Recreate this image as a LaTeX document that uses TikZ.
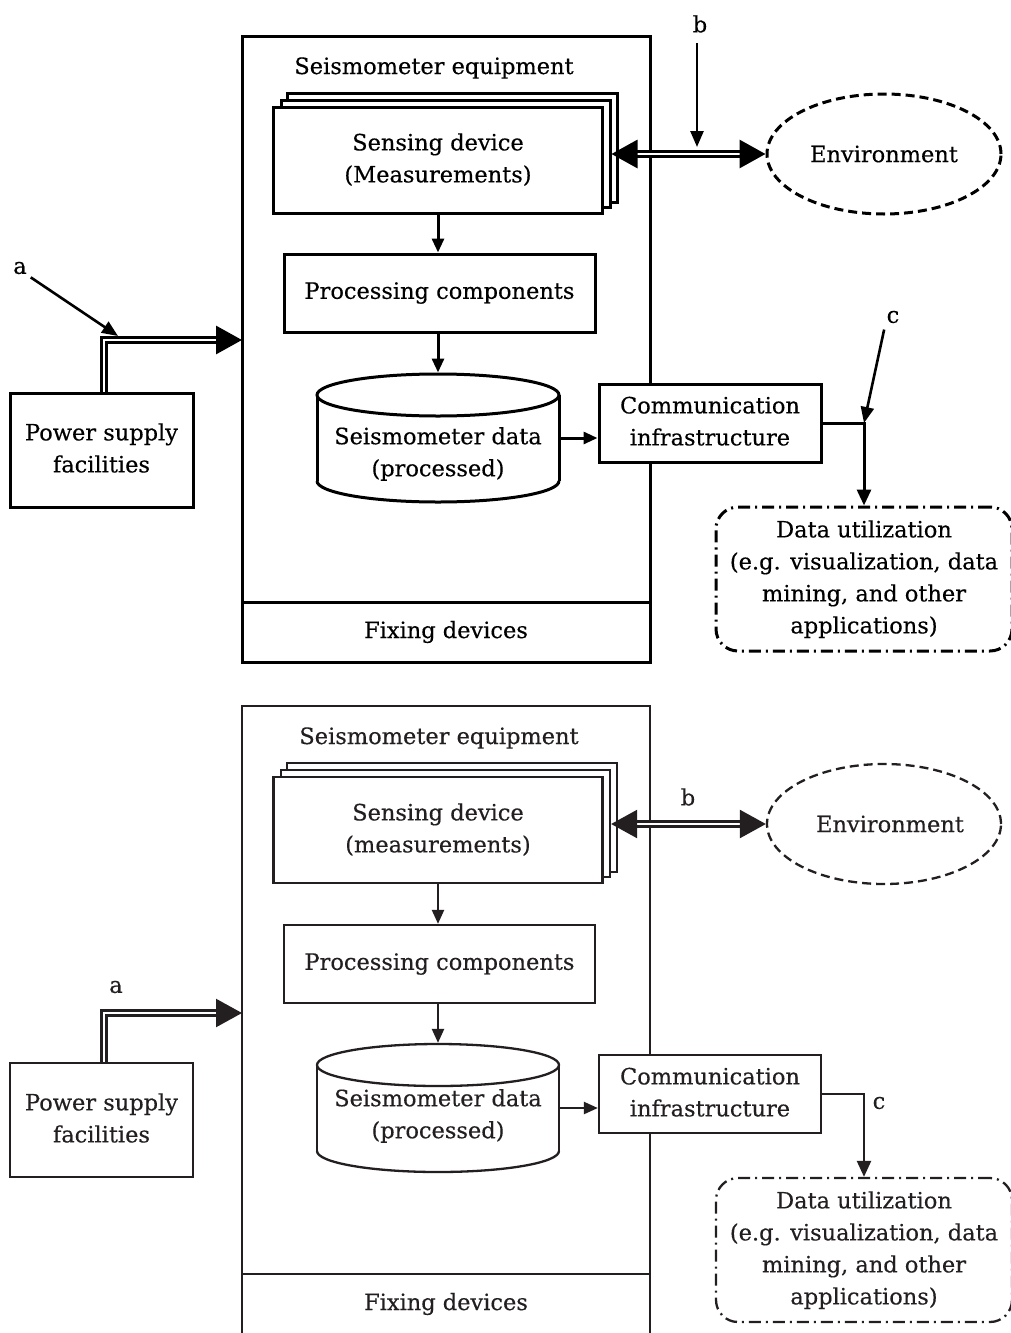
\documentclass[tikz,border=0pt]{standalone}
\usepackage{fontspec}
\setmainfont[FakeBold=0.35]{DejaVu Serif}
\usetikzlibrary{arrows.meta,shapes.geometric,calc}
\definecolor{ink}{HTML}{231F20}
\tikzset{bigtip/.tip={Triangle[length=26pt,width=28pt]},
  smalltip/.tip={Triangle[length=14pt,width=12pt]},
  midtip/.tip={Triangle[length=16pt,width=13pt]}}
\begin{document}
\begin{tikzpicture}[x=1pt,y=-1pt,
  every node/.style={font=\fontsize{22.5}{32}\selectfont, inner sep=0pt, align=center},
  box/.style 2 args={draw, rectangle, fill=white, minimum width=#1, minimum height=#2},
  sarrow/.style={-smalltip},
  dbl/.style={double=white, double distance=2.6pt, line width=3pt},
  dashdot/.style={dash pattern=on 12pt off 5pt on 2pt off 5pt},
  envdash/.style={dash pattern=on 9pt off 5pt},
  lbl/.style={font=\fontsize{22.5}{26}\selectfont}
]
\useasboundingbox (0,0) rectangle (1011,1333);
% ================= TOP DIAGRAM =================
\begin{scope}[line width=3pt, color=black]
  \node[box={408}{626}] (eq1) at (446,349) {};
  \node[box={408}{60}] (fix1) at (446,632) {\raisebox{-3pt}{Fixing devices}};
  \node (t1) at (434,68) {Seismometer equipment};
  \node[box={330}{109}] (sc1) at (452,147.5) {};
  \node[box={329}{107}] (sb1) at (445.5,153.5) {};
  \node[box={329}{106}] (sens1) at (438,160) {\raisebox{-2pt}{\begin{tabular}{@{}c@{}}Sensing device\\(Measurements)\end{tabular}}};
  \node[box={311}{78}] (proc1) at (439.5,293) {\raisebox{-3pt}{Processing components}};
  \node[minimum width=242, minimum height=128] (cyl1) at (438,438) {};
  \fill[white] (317,395) rectangle (559,481);
  \fill[white] (438,481) ellipse (121 and 21);
  \draw (317,395) -- (317,481) (559,395) -- (559,481);
  \draw (317,481) arc[start angle=180, end angle=0, x radius=121, y radius=21];
  \draw[fill=white] (438,395) ellipse (121 and 21);
  \node (cyl1t) at (438,454) {Seismometer data\\(processed)};
  \node[box={222}{78}] (comm1) at (710,423) {\raisebox{-2pt}{\begin{tabular}{@{}c@{}}Communication\\infrastructure\end{tabular}}};
  \node[draw, dashdot, rounded corners=22pt, minimum width=296, minimum height=144] (data1) at (864,579) {\raisebox{-2pt}{\begin{tabular}{@{}c@{}}Data utilization\\(e.g. visualization, data\\mining, and other\\applications)\end{tabular}}};
  \node[draw, envdash, ellipse, minimum width=234, minimum height=120] (env1) at (884,154) {\raisebox{-2pt}{Environment}};
  \node[box={183}{114}] (pow1) at (101.5,450) {\raisebox{-2pt}{\begin{tabular}{@{}c@{}}Power supply\\facilities\end{tabular}}};
  \node[lbl] (a1) at (20,268) {a};
  \node[lbl] (b1) at (700,24) {b};
  \node[lbl] (c1) at (893,317) {c};
  \coordinate (pin1) at (242,340);
  \coordinate (aj1) at (118,336);
  \coordinate (bj1) at (697,147);
  \coordinate (cj1) at (864,423);
  % connectors
  \draw[sarrow] (sens1.south) -- (sens1.south |- proc1.north);
  \draw[sarrow] (proc1.south -| cyl1.north) -- (cyl1.north);
  \draw[sarrow] (cyl1.east) -- (comm1.west |- cyl1.east);
  \draw[-{Triangle[length=16pt,width=14pt]}] (comm1.east) -| (data1.north);
  \draw[-midtip, line width=2.6pt, shorten <=5pt] (c1.south west) -- (cj1);
  \draw[dbl, bigtip-bigtip] (sb1.east |- env1.west) -- (env1.west);
  \draw[-midtip, line width=2.6pt, shorten <=9pt] (b1.south -| bj1) -- (bj1);
  \draw[dbl, -bigtip] ($(pow1.north)+(2.5,0)$) |- (pin1);
  \draw[-midtip, line width=2.6pt, shorten <=3pt] (a1.south east) -- (aj1);
\end{scope}
% ================= BOTTOM DIAGRAM =================
\begin{scope}[line width=2.3pt, color=ink]
  \node[box={408}{628}] (eq2) at (446,1020) {};
  \node[box={408}{60}] (fix2) at (446,1304) {\raisebox{-2pt}{Fixing devices}};
  \node (t2) at (439,738) {Seismometer equipment};
  \node[box={330}{109}] (sc2) at (452,817.5) {};
  \node[box={329}{107}] (sb2) at (445.5,823.5) {};
  \node[box={329}{106}] (sens2) at (438,830) {\raisebox{-2pt}{\begin{tabular}{@{}c@{}}Sensing device\\(measurements)\end{tabular}}};
  \node[box={311}{78}] (proc2) at (439.5,964) {Processing components};
  \node[minimum width=242, minimum height=128] (cyl2) at (438,1108) {};
  \fill[white] (317,1065) rectangle (559,1151);
  \fill[white] (438,1151) ellipse (121 and 21);
  \draw (317,1065) -- (317,1151) (559,1065) -- (559,1151);
  \draw (317,1151) arc[start angle=180, end angle=0, x radius=121, y radius=21];
  \draw[fill=white] (438,1065) ellipse (121 and 21);
  \node (cyl2t) at (438,1116) {Seismometer data\\(processed)};
  \node[box={222}{78}] (comm2) at (710,1094) {\raisebox{-2pt}{\begin{tabular}{@{}c@{}}Communication\\infrastructure\end{tabular}}};
  \node[draw, dashdot, rounded corners=22pt, minimum width=296, minimum height=144] (data2) at (864,1250) {\raisebox{-2pt}{\begin{tabular}{@{}c@{}}Data utilization\\(e.g. visualization, data\\mining, and other\\applications)\end{tabular}}};
  \node[draw, envdash, ellipse, minimum width=234, minimum height=120] (env2) at (884,824) {\hspace*{12pt}Environment};
  \node[box={183}{114}] (pow2) at (101.5,1120) {\raisebox{-2pt}{\begin{tabular}{@{}c@{}}Power supply\\facilities\end{tabular}}};
  \node[lbl] (a2) at (116,987) {a};
  \node[lbl] (b2) at (688,797) {b};
  \node[lbl] (c2) at (879,1103) {c};
  \coordinate (pin2) at (242,1013);
  % connectors
  \draw[sarrow] (sens2.south) -- (sens2.south |- proc2.north);
  \draw[sarrow] (proc2.south -| cyl2.north) -- (cyl2.north);
  \draw[sarrow] (cyl2.east) -- (comm2.west |- cyl2.east);
  \draw[-{Triangle[length=16pt,width=14pt]}] (comm2.east) -| (data2.north);
  \draw[dbl, line width=2.4pt, bigtip-bigtip] (sb2.east |- env2.west) -- (env2.west);
  \draw[dbl, line width=2.4pt, -bigtip] ($(pow2.north)+(2.5,0)$) |- (pin2);
\end{scope}
\end{tikzpicture}
\end{document}
